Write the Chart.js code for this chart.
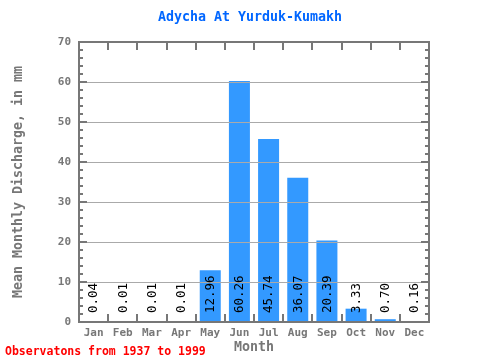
<!DOCTYPE html>
<html><head><meta charset="utf-8">
<script src="https://cdn.jsdelivr.net/npm/chart.js@4/dist/chart.umd.min.js"></script>
<style>html,body{margin:0;padding:0;background:#fff}</style>
</head><body>
<canvas id="c" width="480" height="360"></canvas>
<script>
const months = ['Jan','Feb','Mar','Apr','May','Jun','Jul','Aug','Sep','Oct','Nov','Dec'];
const discharge = [0.04,0.01,0.01,0.01,12.96,60.26,45.74,36.07,20.39,3.33,0.70,0.16];
const valueLabels = ['0.04','0.01','0.01','0.01','12.96','60.26','45.74','36.07','20.39','3.33','0.70','0.16'];
const yMin = 0, yMax = 70, yStep = 10, yMinorStep = 2;
const titleText = 'Adycha At Yurduk-Kumakh';
const yTitle = 'Mean Monthly Discharge, in mm';
const xTitle = 'Month';
const footerText = 'Observatons from 1937 to 1999';

const MONO = '"DejaVu Sans Mono", "Liberation Mono", monospace';
const AXIS = '#777777';

const overlay = {
  id: 'overlay',
  afterDatasetsDraw(chart) {
    const {ctx, chartArea: a, scales: {x, y}} = chart;
    ctx.save();
    // gridlines over bars
    ctx.strokeStyle = '#aaaaaa'; ctx.lineWidth = 1;
    y.ticks.forEach(t => {
      if (t.value > y.min && t.value < y.max) {
        const py = Math.round(y.getPixelForValue(t.value)) + 0.5;
        ctx.beginPath(); ctx.moveTo(a.left, py); ctx.lineTo(a.right, py); ctx.stroke();
      }
    });
    // value labels
    ctx.fillStyle = '#000'; ctx.font = '12.5px ' + MONO;
    discharge.forEach((v, i) => {
      const px = x.getPixelForValue(i);
      ctx.save();
      ctx.translate(px + 0.5, y.getPixelForValue(0) - 9);
      ctx.rotate(-Math.PI / 2);
      ctx.textAlign = 'left'; ctx.textBaseline = 'middle';
      ctx.fillText(valueLabels[i], 0, 0);
      ctx.restore();
    });
    // frame
    ctx.strokeStyle = AXIS; ctx.lineWidth = 2;
    ctx.strokeRect(a.left, a.top, a.right - a.left, a.bottom - a.top);
    // y ticks (inner, left & right)
    for (let v = yMin; v <= yMax; v += yMinorStep) {
      const py = Math.round(y.getPixelForValue(v));
      const len = (v % yStep === 0) ? 8 : 4;
      ctx.beginPath();
      ctx.moveTo(a.left, py); ctx.lineTo(a.left + len, py);
      ctx.moveTo(a.right, py); ctx.lineTo(a.right - len, py);
      ctx.stroke();
    }
    // category boundary ticks (top & bottom)
    for (let i = 1; i < months.length; i++) {
      const px = Math.round((x.getPixelForValue(i - 1) + x.getPixelForValue(i)) / 2);
      ctx.beginPath();
      ctx.moveTo(px, a.top); ctx.lineTo(px, a.top + 8);
      ctx.moveTo(px, a.bottom); ctx.lineTo(px, a.bottom - 8);
      ctx.stroke();
    }
    // title
    ctx.fillStyle = '#0066ff'; ctx.font = 'bold 13.3px ' + MONO;
    ctx.textAlign = 'center'; ctx.textBaseline = 'middle';
    ctx.fillText(titleText, 250, 18);
    // footer
    ctx.fillStyle = '#ff0000'; ctx.font = 'bold 11.5px ' + MONO;
    ctx.textAlign = 'left'; ctx.textBaseline = 'middle';
    ctx.fillText(footerText, 5, 352);
    ctx.restore();
  }
};

new Chart(document.getElementById('c'), {
  type: 'bar',
  data: {
    labels: months,
    datasets: [{
      data: discharge,
      backgroundColor: '#3399ff',
      borderWidth: 0,
      barPercentage: 0.72,
      categoryPercentage: 1.0
    }]
  },
  options: {
    responsive: false,
    animation: false,
    layout: { padding: { left: 0, right: 51, top: 42, bottom: 0 } },
    plugins: {
      legend: { display: false },
      tooltip: { enabled: false },
      title: { display: false }
    },
    scales: {
      x: {
        grid: { display: false, drawTicks: false, tickLength: 0 },
        border: { display: false },
        ticks: { color: AXIS, font: { family: MONO, size: 11, weight: 'bold' }, padding: 5, maxRotation: 0 },
        title: { display: true, text: xTitle, color: AXIS, font: { family: MONO, size: 13.3, weight: 'bold' }, padding: { top: 0, bottom: 4 } },
        afterFit(s) { s.height = 38; }
      },
      y: {
        min: yMin, max: yMax,
        grid: { display: false, drawTicks: false, tickLength: 0 },
        border: { display: false },
        ticks: { stepSize: yStep, color: AXIS, font: { family: MONO, size: 11, weight: 'bold' }, padding: 8 },
        title: { display: true, text: yTitle, color: AXIS, font: { family: MONO, size: 13.3, weight: 'bold' }, padding: { top: 11, bottom: 0 } },
        afterFit(s) { s.width = 79; }
      }
    }
  },
  plugins: [overlay]
});
</script>
</body></html>
